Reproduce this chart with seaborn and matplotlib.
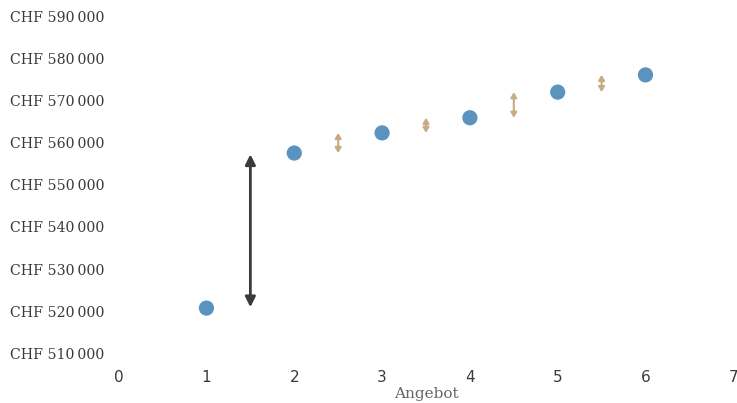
import matplotlib
matplotlib.use("Agg")
import matplotlib.pyplot as plt
import matplotlib.ticker as mticker
import seaborn as sns
import pandas as pd

# data
angebot = [1, 2, 3, 4, 5, 6]
preis = [520700, 557600, 562400, 566000, 572100, 576200]
y_ticks = [510000, 520000, 530000, 540000, 550000, 560000, 570000, 580000, 590000]
x_ticks = [0, 1, 2, 3, 4, 5, 6, 7]

df = pd.DataFrame({"Angebot": angebot, "Preis": preis})

sns.set_style("white")
fig = plt.figure(figsize=(7.37, 4.03), dpi=100)
ax = fig.add_axes([0.161, 0.124, 0.834, 0.834])

sns.scatterplot(data=df, x="Angebot", y="Preis", ax=ax, color="#5b93bf",
                s=120, edgecolor="none", zorder=3)

# big jump between offer 1 and 2
ax.annotate("", xy=(1.5, preis[1] - 300), xytext=(1.5, preis[0] + 200),
            arrowprops=dict(arrowstyle="<|-|>,head_length=0.6,head_width=0.3",
                            color="#3b3b3b", lw=2, shrinkA=0, shrinkB=0))

# small steps between the later offers
for i in range(1, len(preis) - 1):
    xm = (angebot[i] + angebot[i + 1]) / 2
    ax.annotate("", xy=(xm, preis[i + 1]), xytext=(xm, preis[i]),
                arrowprops=dict(arrowstyle="<|-|>,head_length=0.3,head_width=0.18",
                                color="#c8aa84", lw=1.5, shrinkA=0, shrinkB=0))

ax.set_xlim(0, 7)
ax.set_ylim(510000, 590000)
ax.set_xticks(x_ticks)
ax.set_yticks(y_ticks)
ax.yaxis.set_major_formatter(mticker.FuncFormatter(
    lambda v, p: "CHF " + f"{v:,.0f}".replace(",", "\u2009")))

for lab in ax.get_yticklabels():
    lab.set_fontfamily("DejaVu Serif")
    lab.set_fontsize(10.2)
    lab.set_color("#3a3a3a")
for lab in ax.get_xticklabels():
    lab.set_fontsize(11)
    lab.set_color("#3a3a3a")

ax.tick_params(axis="both", length=0)
ax.tick_params(axis="y", pad=10)
ax.tick_params(axis="x", pad=12)
ax.set_ylabel("")
ax.set_xlabel("Angebot", fontfamily="DejaVu Serif", fontsize=11,
              color="#666666", labelpad=2)
sns.despine(ax=ax, left=True, bottom=True)
ax.grid(False)

fig.savefig("out.png", dpi=100)
